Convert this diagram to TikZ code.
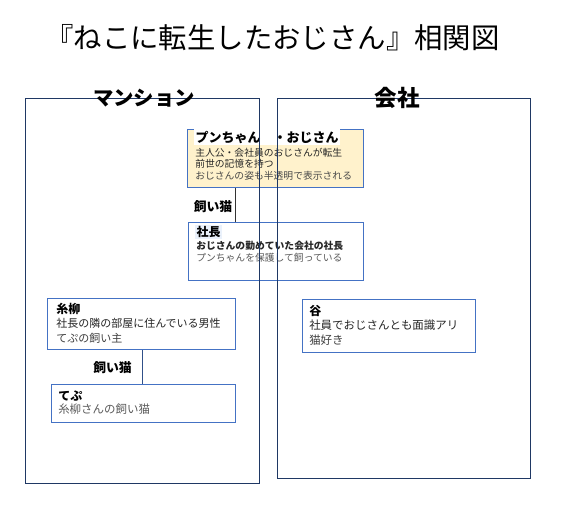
\documentclass[tikz,border=0pt]{standalone}
\usepackage{fontspec}
\setmainfont{Noto Sans CJK JP}
\definecolor{navy}{HTML}{1F3864}
\definecolor{boxblue}{HTML}{4472C4}
\definecolor{paleyellow}{HTML}{FFF2CC}
\definecolor{txtdark}{HTML}{262626}
\definecolor{txtgray}{HTML}{5A5A5A}
\definecolor{hlblue}{HTML}{EAF1FB}
\newcommand\pxl[1]{#1*0.75pt}
\newcommand\fs[1]{\fontsize{#1}{#1}\selectfont}
\tikzset{
  cbox/.style={draw=boxblue, line width=0.8pt, rectangle, anchor=north west, inner sep=0pt},
  region/.style={draw=navy, line width=1pt},
  ttl/.style={anchor=west, inner sep=0pt, text=black, font=\bfseries\fs{9pt}},
  body/.style={anchor=west, inner sep=0pt, text=txtdark},
  link/.style={draw=boxblue!70!black, line width=0.7pt},
  linklabel/.style={inner sep=0pt, font=\bfseries\fs{9.6pt}, text=black}
}
\begin{document}
\begin{tikzpicture}[x=0.75pt, y=-0.75pt]
\useasboundingbox (0,0) rectangle (561,513);
\fill[white] (0,0) rectangle (561,513);

% title
\node[inner sep=0pt, font=\fs{21.3pt}] (title) at (272.5,38) {『ねこに転生したおじさん』相関図};

% boxes
\node[cbox, fill=paleyellow, minimum width=\pxl{175.5}, minimum height=\pxl{58.5}] (pun) at (187.3,128.8) {};
\node[cbox, fill=white, minimum width=\pxl{174.5}, minimum height=\pxl{58.3}] (shacho) at (188.3,221.7) {};
\node[cbox, fill=white, minimum width=\pxl{187.7}, minimum height=\pxl{51}] (itoyanagi) at (47.3,298.3) {};
\node[cbox, fill=white, minimum width=\pxl{184.3}, minimum height=\pxl{37.7}] (tepu) at (50.7,384) {};
\node[cbox, fill=white, minimum width=\pxl{173.3}, minimum height=\pxl{52.7}] (tani) at (301.7,299) {};

% box texts
\node[ttl, font=\bfseries\fs{9.75pt}, fill=white, inner xsep=1pt, inner ysep=1.5pt] (punT) at (194,137) {プンちゃん　・おじさん};
\node[body, font=\fs{7.35pt}] (punA) at (195,153) {主人公・会社員のおじさんが転生};
\node[body, font=\fs{7.35pt}] (punB) at (195,164) {前世の記憶を持つ};
\node[body, font=\fs{7.35pt}, text=txtgray!80!black] (punC) at (195,175.5) {おじさんの姿も半透明で表示される};

\node[ttl, fill=hlblue, inner xsep=1pt, inner ysep=1pt] (shachoT) at (195,232) {社長};
\node[body, font=\bfseries\fs{7.35pt}] (shachoA) at (196,246) {おじさんの勤めていた会社の社長};
\node[body, font=\fs{7.35pt}, text=txtgray] (shachoB) at (196,258) {プンちゃんを保護して飼っている};

\node[ttl] (itoT) at (56,309) {糸柳};
\node[body, font=\fs{8.25pt}] (itoA) at (56,323.5) {社長の隣の部屋に住んでいる男性};
\node[body, font=\fs{8.25pt}, text=txtgray!70!black] (itoB) at (56,338) {てぷの飼い主};

\node[ttl] (tepuT) at (58,396) {てぷ};
\node[body, font=\fs{8.6pt}, text=txtgray] (tepuA) at (58,409) {糸柳さんの飼い猫};

\node[ttl] (taniT) at (309,311) {谷};
\node[body, font=\fs{8.6pt}] (taniA) at (309,325) {社員でおじさんとも面識アリ};
\node[body, font=\fs{8.6pt}, text=txtgray!70!black] (taniB) at (309,340) {猫好き};

% connectors
\coordinate (c1) at (235,0);
\coordinate (c2) at (142.3,0);
\draw[link, draw=black!80] (pun.south -| c1) -- (shacho.north -| c1);
\draw[link] (itoyanagi.south -| c2) -- (tepu.north -| c2);
\node[linklabel] (lab1) at (213,207) {飼い猫};
\node[linklabel] (lab2) at (112.5,367.5) {飼い猫};

% regions (drawn over boxes)
\draw[region] (25.3,98.5) rectangle (259.3,483.3);
\draw[region] (277.3,98.5) rectangle (530.5,478.3);
\node[inner sep=0pt, font=\bfseries\fs{15.3pt}] (mansion) at (144,98.5) {マンション};
\node[inner sep=0pt, font=\bfseries\fs{16.9pt}] (kaisha) at (397.5,97.5) {会社};
\end{tikzpicture}
\end{document}
